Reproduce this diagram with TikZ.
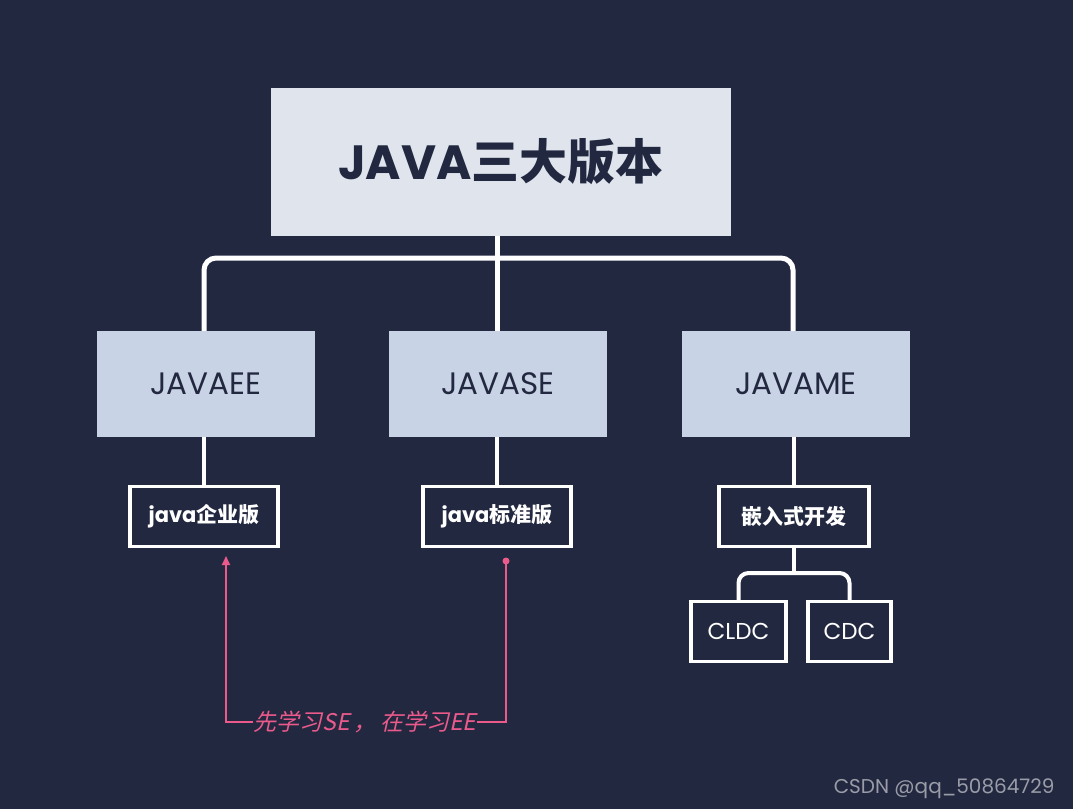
\documentclass[tikz,border=0pt]{standalone}
\usepackage{fontspec}
\setmainfont{Poppins}
\newfontfamily\cjk{Noto Sans CJK SC}
\newfontfamily\cjkit[FakeSlant=0.22]{Noto Sans CJK SC}
\usetikzlibrary{arrows.meta}
\definecolor{bg}{HTML}{222840}
\definecolor{titlefill}{HTML}{DFE4ED}
\definecolor{midfill}{HTML}{C8D3E5}
\definecolor{darktext}{HTML}{222840}
\definecolor{pinkc}{HTML}{EC5A8C}
\definecolor{wm}{HTML}{9A9DA8}
\tikzset{
  titlebox/.style={fill=titlefill, minimum width=460pt, minimum height=148pt, inner sep=0pt, text=darktext},
  midbox/.style={fill=midfill, minimum height=106pt, inner sep=0pt, text=darktext, font=\fontsize{31}{35}\selectfont},
  leafbox/.style={draw=white, line width=3.5pt, fill=bg, minimum height=60pt, inner sep=0pt, text=white, font=\fontsize{21}{25}\selectfont\bfseries},
  smallbox/.style={leafbox, font=\fontsize{23}{27}\selectfont},
  tree/.style={draw=white, line width=5pt, rounded corners=12pt},
  subtree/.style={draw=white, line width=4pt, rounded corners=10pt},
  pinkline/.style={draw=pinkc, line width=2pt},
}
\begin{document}
\begin{tikzpicture}[x=1pt,y=-1pt]
\fill[bg] (0,0) rectangle (1073,809);
\useasboundingbox (0,0) rectangle (1073,809);
% title
\node[titlebox] (title) at (501,162) {\fontsize{48}{54}\selectfont\bfseries JAVA{\cjk\bfseries 三大版本}};
% level 2
\node[midbox, minimum width=218pt] (ee) at (206,384) {JAVAEE};
\node[midbox, minimum width=218pt] (se) at (498,384) {JAVASE};
\node[midbox, minimum width=228pt] (me) at (796,384) {JAVAME};
% level 3
\node[leafbox, minimum width=148pt] (eec) at (204,516.5) {java{\cjk\bfseries 企业版}};
\node[leafbox, minimum width=148pt] (sec) at (497,516.5) {java{\cjk\bfseries 标准版}};
\node[leafbox, minimum width=150pt] (mec) at (794,516.5) {{\cjk\bfseries 嵌入式开发}};
% level 4
\node[smallbox, minimum width=95pt] (cldc) at (738.5,631.5) {CLDC};
\node[smallbox, minimum width=83pt] (cdc) at (849.5,631.5) {CDC};
% connectors
\coordinate (j) at (497,258);
\draw[draw=white, line width=5pt] (title.south -| j) -- (j);
\draw[tree] (ee.north -| 204,0) |- (j) -| (me.north -| 793,0);
\draw[draw=white, line width=5pt] (j) -- (se.north -| j);
\draw[draw=white, line width=4pt] (ee.south -| eec.north) -- (eec.north);
\draw[draw=white, line width=4pt] (se.south -| sec.north) -- (sec.north);
\draw[draw=white, line width=4pt] (me.south -| mec.north) -- (mec.north);
\coordinate (j2) at (794,573);
\draw[draw=white, line width=4pt] (mec.south) -- (j2);
\draw[subtree] (cldc.north) |- (j2) -| (cdc.north);
% pink note
\node[inner sep=0pt, text=pinkc, font=\fontsize{23}{27}\selectfont\cjkit] (note) at (365,722) {先学习SE\,，\,在学习EE};
\coordinate (dot) at (506,561);
\coordinate (tip) at (226,556);
\fill[pinkc] (dot) circle (3.5pt);
\draw[pinkline] (dot) |- (note.east);
\draw[pinkline, -{Triangle[length=9pt,width=8pt]}] (note.west) -| (tip);
% watermark
\node[anchor=east, text=wm, font=\fontsize{20}{24}\selectfont] (wmk) at (1058,789) {CSDN @qq\_50864729};
\end{tikzpicture}
\end{document}
